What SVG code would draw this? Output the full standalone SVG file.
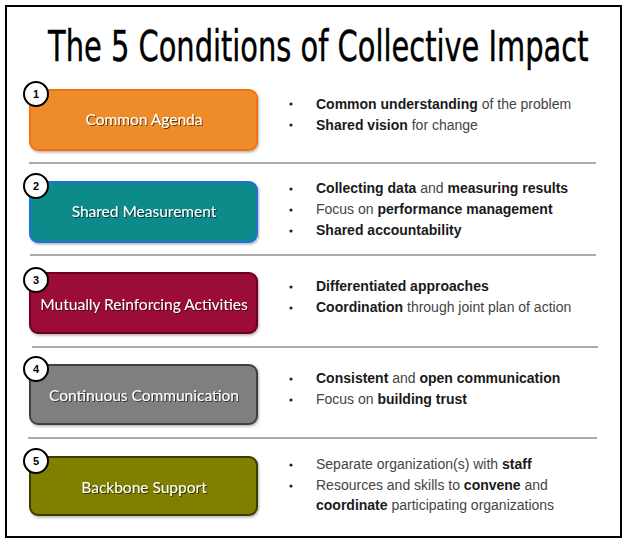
<svg xmlns="http://www.w3.org/2000/svg" width="623" height="538" viewBox="0 0 623 538">
<defs>
<filter id="ts" x="-10%" y="-30%" width="130%" height="160%"><feDropShadow dx="1" dy="1" stdDeviation="0.6" flood-color="#000" flood-opacity="0.6"/></filter>
<filter id="bs" x="-5%" y="-10%" width="115%" height="130%"><feDropShadow dx="1" dy="1.5" stdDeviation="1" flood-color="#000" flood-opacity="0.3"/></filter>
</defs>
<style>
.title{font-family:"DejaVu Sans Condensed","Liberation Sans",Arial,sans-serif;font-size:42px;fill:#000;stroke:#000;stroke-width:0.4}
.box{stroke-width:2;filter:url(#bs)}
.lbl{font-family:Lato,"DejaVu Sans",sans-serif;font-size:15.5px;fill:#fff;text-anchor:middle;filter:url(#ts)}
.num{fill:#fff;stroke:#000;stroke-width:2}
.numt{font-family:"Liberation Sans",Arial,sans-serif;font-size:11px;font-weight:bold;fill:#000;text-anchor:middle}
.bt{font-family:"Liberation Sans",Arial,sans-serif;font-size:14px;fill:#444}
.b{font-weight:bold;fill:#1a1a1a}
.sep{stroke:#aaa;stroke-width:2}
.dot{fill:#222}
</style>
<rect x="6" y="6" width="615" height="531" fill="#fff" stroke="#000" stroke-width="2"/>
<text class="title" transform="translate(48,61) scale(0.765,1)" x="0" y="0">The 5 Conditions of Collective Impact</text>
<g id="connectors">
<line class="sep" x1="29" y1="163" x2="596" y2="163"/>
<line class="sep" x1="30" y1="255" x2="596" y2="255"/>
<line class="sep" x1="32" y1="347" x2="598" y2="347"/>
<line class="sep" x1="28" y1="438" x2="597" y2="438"/>
</g>
<g id="node1">
<rect class="box" x="30" y="90" width="227" height="60" rx="8" fill="#EF8C2C" stroke="#F47014"/>
<text class="lbl" x="144" y="125">Common Agenda</text>
<circle class="num" cx="36" cy="94" r="12"/>
<text class="numt" x="36" y="98">1</text>
<circle class="dot" cx="291" cy="104" r="1.6"/><circle class="dot" cx="291" cy="125" r="1.6"/>
<text class="bt" x="316" y="109"><tspan class="b">Common understanding</tspan> of the problem</text>
<text class="bt" x="316" y="130"><tspan class="b">Shared vision</tspan> for change</text>
</g>
<g id="node2">
<rect class="box" x="30" y="182" width="227" height="60" rx="8" fill="#0E8A8A" stroke="#2070D8"/>
<text class="lbl" x="144" y="217">Shared Measurement</text>
<circle class="num" cx="36" cy="186" r="12"/>
<text class="numt" x="36" y="190">2</text>
<circle class="dot" cx="291" cy="189" r="1.6"/><circle class="dot" cx="291" cy="210" r="1.6"/><circle class="dot" cx="291" cy="231" r="1.6"/>
<text class="bt" x="316" y="193"><tspan class="b">Collecting data</tspan> and <tspan class="b">measuring results</tspan></text>
<text class="bt" x="316" y="214">Focus on <tspan class="b">performance management</tspan></text>
<text class="bt" x="316" y="235"><tspan class="b">Shared accountability</tspan></text>
</g>
<g id="node3">
<rect class="box" x="30" y="273" width="227" height="60" rx="8" fill="#9B0737" stroke="#6E0424"/>
<text class="lbl" x="144" y="310">Mutually Reinforcing Activities</text>
<circle class="num" cx="36" cy="280" r="12"/>
<text class="numt" x="36" y="284">3</text>
<circle class="dot" cx="291" cy="287" r="1.6"/><circle class="dot" cx="291" cy="308" r="1.6"/>
<text class="bt" x="316" y="291"><tspan class="b">Differentiated approaches</tspan></text>
<text class="bt" x="316" y="312"><tspan class="b">Coordination</tspan> through joint plan of action</text>
</g>
<g id="node4">
<rect class="box" x="30" y="365" width="227" height="59" rx="8" fill="#7F7F7F" stroke="#404040"/>
<text class="lbl" x="144" y="401">Continuous Communication</text>
<circle class="num" cx="36" cy="369" r="12"/>
<text class="numt" x="36" y="373">4</text>
<circle class="dot" cx="291" cy="379" r="1.6"/><circle class="dot" cx="291" cy="400" r="1.6"/>
<text class="bt" x="316" y="383"><tspan class="b">Consistent</tspan> and <tspan class="b">open communication</tspan></text>
<text class="bt" x="316" y="404">Focus on <tspan class="b">building trust</tspan></text>
</g>
<g id="node5">
<rect class="box" x="30" y="457" width="227" height="58" rx="8" fill="#807F00" stroke="#3C3C00"/>
<text class="lbl" x="144" y="493">Backbone Support</text>
<circle class="num" cx="36" cy="461" r="12"/>
<text class="numt" x="36" y="465">5</text>
<circle class="dot" cx="291" cy="465" r="1.6"/><circle class="dot" cx="291" cy="486" r="1.6"/>
<text class="bt" x="316" y="469">Separate organization(s) with <tspan class="b">staff</tspan></text>
<text class="bt" x="316" y="490">Resources and skills to <tspan class="b">convene</tspan> and</text>
<text class="bt" x="316" y="510"><tspan class="b">coordinate</tspan> participating organizations</text>
</g>
</svg>
